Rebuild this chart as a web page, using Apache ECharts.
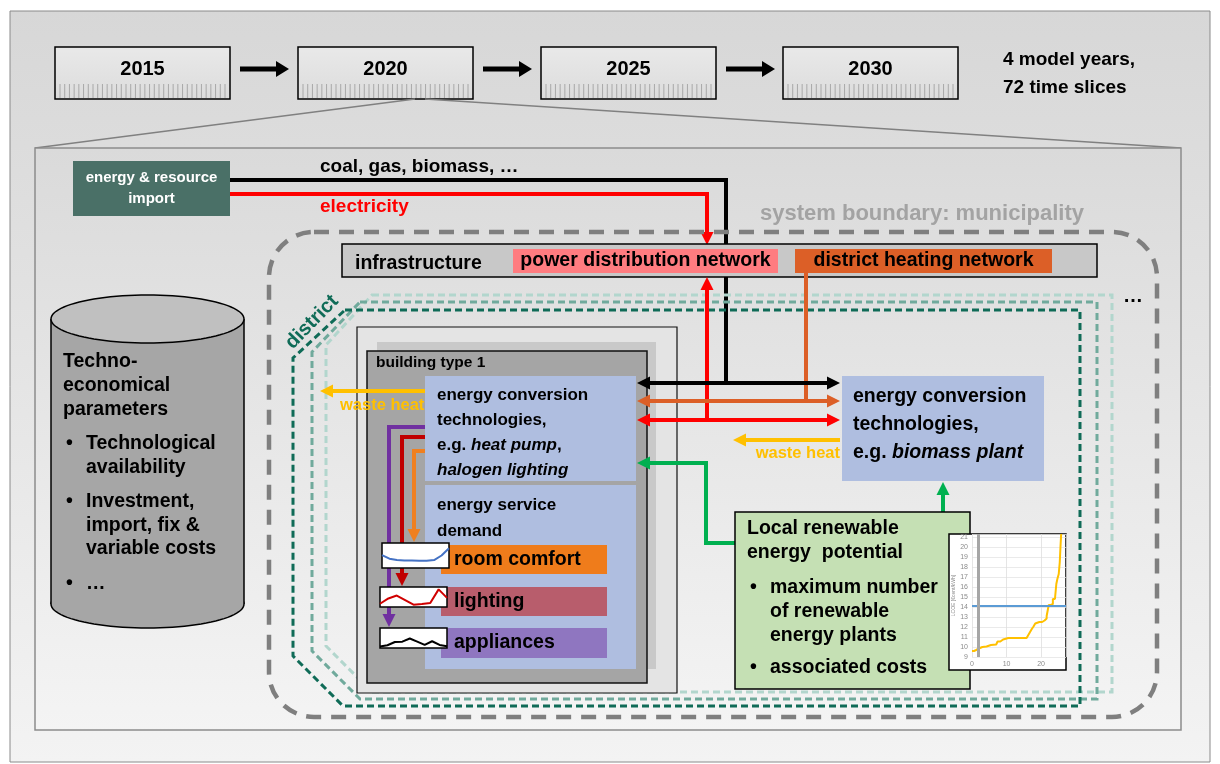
<!DOCTYPE html>
<html><head><meta charset="utf-8">
<script src="https://cdn.jsdelivr.net/npm/echarts@6/dist/echarts.min.js"></script>
<style>html,body{margin:0;padding:0;background:#fff}#c{width:1220px;height:764px}</style>
</head><body><div id="c"></div>
<script>
// ---------------- data ----------------
const years = ['2015', '2020', '2025', '2030'];
const timelineNote = ['4 model years,', '72 time slices'];
const roomComfortProfile = [0.52, 0.36, 0.3, 0.28, 0.28, 0.27, 0.27, 0.3, 0.5, 0.82];
const lightingProfile = [0.13, 0.42, 0.58, 0.33, 0.08, 0.12, 0.17, 0.92, 0.45];
const appliancesProfile = [0.03, 0.1, 0.28, 0.3, 0.47, 0.3, 0.12, 0.32, 0.12, 0.05];
const lcoeCapacity = [0, 0.6, 1.2, 2, 3, 4.2, 5.5, 7, 7.4, 8.2, 9, 10.5, 12, 14, 15.8, 16.3, 16.8, 17.3, 17.8, 18.3, 18.8, 19.5, 20.3, 21, 21.6, 22, 22.2, 22.8, 23.4, 24, 24.4, 24.7, 25.1, 25.4, 25.6, 25.8];
const lcoeValue = [9.6, 9.7, 9.85, 10.0, 10.05, 10.2, 10.25, 10.3, 10.55, 10.75, 10.9, 10.9, 10.9, 10.9, 10.95, 11.2, 11.5, 11.8, 12.05, 12.35, 12.5, 12.5, 12.65, 12.85, 13.1, 13.3, 14.2, 14.3, 14.8, 14.8, 16.3, 16.8, 17.3, 18.5, 20.0, 21.3];
const lcoeReference = 14.1;
const capacityMarker = 1.8;
const lcoeAxisName = 'LCOE [€cent/kWh]';

// ---------------- drawing helpers ----------------
const FF = '"Liberation Sans", Arial, Helvetica, sans-serif';
const G = [];
function add(el) { el.z = -1; el.silent = true; G.push(el); return el; }
function rect(x, y, w, h, fill, stroke, lw, r, dash) {
  return add({ type: 'rect', shape: { x, y, width: w, height: h, r: r || 0 },
    style: { fill: fill || 'none', stroke: stroke || null, lineWidth: lw || 0, lineDash: dash || null } });
}
function line(pts, stroke, lw, dash) {
  return add({ type: 'polyline', shape: { points: pts },
    style: { stroke, lineWidth: lw, fill: 'none', lineDash: dash || null, lineJoin: 'miter', lineCap: 'butt' } });
}
function polygon(pts, fill, stroke, lw, dash) {
  return add({ type: 'polygon', shape: { points: pts },
    style: { fill: fill || 'none', stroke: stroke || null, lineWidth: lw || 0, lineDash: dash || null, lineJoin: 'miter' } });
}
function headPts(tip, ux, uy, L, H) {
  const bx = tip[0] - ux * L, by = tip[1] - uy * L;
  return [[tip[0], tip[1]], [bx - uy * H, by + ux * H], [bx + uy * H, by - ux * H]];
}
function arrow(pts, color, lw, o) {
  o = o || {};
  const L = o.len || 13, H = o.half || 6.5;
  pts = pts.map(p => p.slice());
  const heads = [];
  if (o.end !== false) {
    const n = pts.length, a = pts[n - 2], b = pts[n - 1];
    const d = Math.hypot(b[0] - a[0], b[1] - a[1]), ux = (b[0] - a[0]) / d, uy = (b[1] - a[1]) / d;
    heads.push(headPts(b, ux, uy, L, H));
    pts[n - 1] = [b[0] - ux * L * 0.8, b[1] - uy * L * 0.8];
  }
  if (o.start) {
    const a = pts[1], b = pts[0];
    const d = Math.hypot(b[0] - a[0], b[1] - a[1]), ux = (b[0] - a[0]) / d, uy = (b[1] - a[1]) / d;
    heads.push(headPts(b, ux, uy, L, H));
    pts[0] = [b[0] - ux * L * 0.8, b[1] - uy * L * 0.8];
  }
  line(pts, color, lw);
  heads.forEach(h => polygon(h, color));
}
function txt(x, y, s, size, color, o) {
  o = o || {};
  const st = { x, y, text: s, font: `${o.italic ? 'italic ' : ''}${o.normal ? '' : 'bold '}${size}px ${FF}`,
    fill: color, align: o.align || 'left', verticalAlign: 'middle', textAlign: o.align || 'left', textVerticalAlign: 'middle' };
  if (o.rich) {
    st.rich = { i: { fontSize: size, fontWeight: 'bold', fontStyle: 'italic', fontFamily: FF, fill: color } };
  }
  const el = { type: 'text', style: st };
  if (o.rotation) { el.x = x; el.y = y; st.x = 0; st.y = 0; el.rotation = o.rotation; }
  return add(el);
}
function ellipse(cx, cy, rx, ry) {
  const p = [];
  for (let k = 0; k < 96; k++) { const t = k / 96 * Math.PI * 2; p.push([cx + rx * Math.cos(t), cy + ry * Math.sin(t)]); }
  return p;
}
const vgrad = (a, b) => ({ type: 'linear', x: 0, y: 0, x2: 0, y2: 1, colorStops: [{ offset: 0, color: a }, { offset: 1, color: b }] });

// ---------------- frame & timeline ----------------
rect(10, 11, 1200, 751, vgrad('#d7d7d7', '#f3f3f3'), '#8a8a8a', 1);
const yearBoxX = [55, 298, 541, 783];
years.forEach((y, i) => {
  const x = yearBoxX[i];
  rect(x, 47, 175, 52, vgrad('#e9e9e9', '#dcdcdc'), '#000', 1.5);
  for (let k = 0; k < 36; k++) {
    const tx = x + 5 + k * (165 / 35);
    line([[tx, 84], [tx, 98]], '#a8a8a8', 1);
  }
  txt(x + 87.5, 69, y, 20, '#000', { align: 'center' });
  if (i < 3) arrow([[x + 185, 69], [x + 234, 69]], '#000', 5, { len: 13, half: 8 });
});
txt(1003, 60, timelineNote[0], 19, '#000');
txt(1003, 88, timelineNote[1], 19, '#000');
line([[415, 99], [35, 148]], '#808080', 1.5);
line([[425, 99], [1181, 148]], '#808080', 1.5);

// inner model box
rect(35, 148, 1146, 582, vgrad('#dadada', '#f4f4f4'), '#8c8c8c', 1.5);

// import
rect(73, 161, 157, 55, '#4a7067');
txt(151.5, 178, 'energy & resource', 15, '#fff', { align: 'center' });
txt(151.5, 199, 'import', 15, '#fff', { align: 'center' });
line([[230, 180], [726, 180], [726, 383]], '#000', 4);
arrow([[230, 194], [707, 194], [707, 245]], '#ff0000', 4);
txt(320, 167, 'coal, gas, biomass, …', 19, '#000');
txt(320, 207, 'electricity', 19, '#ff0000');

// municipality boundary
rect(269, 232, 888, 485, 'none', '#7f7f7f', 4.5, 45, [15, 10]);
txt(760, 214, 'system boundary: municipality', 22, '#a3a3a3');

// districts
polygon([[372, 295], [1112, 295], [1112, 692], [372, 692], [326, 646], [326, 345]], 'none', '#b2d6cd', 3, [7, 4]);
polygon([[360, 302], [1097, 302], [1097, 699], [360, 699], [312, 651], [312, 352]], 'none', '#70aa9c', 3, [7, 4]);
polygon([[345, 310], [1080, 310], [1080, 706], [343, 706], [293, 656], [293, 358]], 'none', '#0f6b57', 3, [7, 4]);
txt(312, 322, 'district', 20, '#0f6b57', { align: 'center', rotation: 0.8 });
txt(1123, 296, '…', 20, '#000');

// infrastructure
rect(342, 244, 755, 33, '#c8c8c8', '#000', 1.5);
txt(355, 264, 'infrastructure', 19.5, '#000');
rect(513, 249, 265, 24, '#ff7c80');
txt(645.5, 261, 'power distribution network', 19.5, '#000', { align: 'center' });
rect(795, 249, 257, 24, '#dc5f27');
txt(923.5, 261, 'district heating network', 19.5, '#000', { align: 'center' });

// building
rect(357, 327, 320, 366, '#e4e4e4', '#111', 1.2);
rect(377, 342, 279, 327, '#c9c9c9');
rect(367, 351, 280, 332, '#a5a5a5', '#111', 1.5);
txt(376, 363, 'building type 1', 15.5, '#000');

// infrastructure links
arrow([[707, 420], [707, 277]], '#ff0000', 4);
line([[806, 273], [806, 401]], '#dc5f27', 4);
arrow([[637, 383], [840, 383]], '#000', 4, { start: true });
arrow([[637, 401], [840, 401]], '#dc5f27', 4, { start: true });
arrow([[637, 420], [840, 420]], '#ff0000', 4, { start: true });

// waste heat left
arrow([[425, 391], [320, 391]], '#ffc000', 4);
txt(340, 405, 'waste heat', 16.5, '#ffc000');

// building conversion + demand
rect(425, 376, 211, 105, '#afbee0');
txt(437, 395, 'energy conversion', 17, '#000');
txt(437, 420, 'technologies,', 17, '#000');
txt(437, 445, 'e.g. {i|heat pump},', 17, '#000', { rich: true });
txt(437, 470, '{i|halogen lighting}', 17, '#000', { rich: true });
rect(425, 485, 211, 184, '#afbee0');
txt(437, 505, 'energy service', 17, '#000');
txt(437, 531, 'demand', 17, '#000');
rect(441, 545, 166, 29, '#ef7c1b');
txt(454, 560, 'room comfort', 19.5, '#000');
rect(441, 587, 166, 29, '#b85d6c');
txt(454, 602, 'lighting', 19.5, '#000');
rect(441, 628, 166, 30, '#8f76c0');
txt(454, 643, 'appliances', 19.5, '#000');
arrow([[425, 427], [389, 427], [389, 627]], '#7030a0', 4);
arrow([[425, 437], [402, 437], [402, 586]], '#c00000', 4);
arrow([[425, 451], [414, 451], [414, 542]], '#f08020', 4);

// district conversion
rect(842, 376, 202, 105, '#afbee0');
txt(853, 397, 'energy conversion', 19.5, '#000');
txt(853, 425, 'technologies,', 19.5, '#000');
txt(853, 453, 'e.g. {i|biomass plant}', 19.5, '#000', { rich: true });
arrow([[840, 440], [733, 440]], '#ffc000', 4);
txt(840, 453, 'waste heat', 16.5, '#ffc000', { align: 'right' });

// renewables
arrow([[735, 543], [706, 543], [706, 463], [637, 463]], '#00b050', 4);
arrow([[943, 512], [943, 482]], '#00b050', 4);
rect(735, 512, 235, 177, '#c5e0b4', '#000', 1.5);
txt(747, 529, 'Local renewable', 19.5, '#000');
txt(747, 553, 'energy  potential', 19.5, '#000');
txt(750, 588, '•', 19.5, '#000');
txt(770, 588, 'maximum number', 19.5, '#000');
txt(770, 612, 'of renewable', 19.5, '#000');
txt(770, 636, 'energy plants', 19.5, '#000');
txt(750, 668, '•', 19.5, '#000');
txt(770, 668, 'associated costs', 19.5, '#000');
rect(949, 534, 117, 136, '#fff', '#000', 1.5);

// parameter database (cylinder)
polygon(ellipse(147.5, 604, 96.5, 24), '#a6a6a6', '#000', 1.5);
rect(51, 319, 193, 285, '#a6a6a6');
line([[51, 319], [51, 604]], '#000', 1.5);
line([[244, 319], [244, 604]], '#000', 1.5);
polygon(ellipse(147.5, 319, 96.5, 24), '#c0c0c0', '#000', 1.5);
txt(63, 362, 'Techno-', 19.5, '#000');
txt(63, 386, 'economical', 19.5, '#000');
txt(63, 410, 'parameters', 19.5, '#000');
txt(66, 444, '•', 19.5, '#000');
txt(86, 444, 'Technological', 19.5, '#000');
txt(86, 468, 'availability', 19.5, '#000');
txt(66, 502, '•', 19.5, '#000');
txt(86, 502, 'Investment,', 19.5, '#000');
txt(86, 526, 'import, fix &', 19.5, '#000');
txt(86, 549, 'variable costs', 19.5, '#000');
txt(66, 584, '•', 19.5, '#000');
txt(86, 584, '…', 19.5, '#000');

// ---------------- charts ----------------
const sparkGrids = [
  { left: 382, top: 543, width: 67, height: 25 },
  { left: 380, top: 587, width: 67, height: 20 },
  { left: 380, top: 628, width: 67, height: 20 }
];
const sparkData = [roomComfortProfile, lightingProfile, appliancesProfile];
const sparkColors = ['#4472c4', '#d00000', '#000000'];
const grids = sparkGrids.map(g => Object.assign({ show: true, backgroundColor: '#fff', borderColor: '#000', borderWidth: 1.5, z: 3 }, g));
grids.push({ left: 972, top: 534, width: 94, height: 123, show: false });
const xAxes = sparkData.map((d, i) => ({ gridIndex: i, type: 'category', boundaryGap: false, show: false, data: d.map((_, k) => k) }));
const yAxes = sparkData.map((d, i) => ({ gridIndex: i, type: 'value', show: false, min: -0.05, max: 1.05 }));
xAxes.push({ gridIndex: 3, type: 'value', min: 0, max: 27.2, interval: 10,
  axisLine: { show: false }, axisTick: { show: false },
  axisLabel: { fontSize: 7, color: '#8c8c8c', margin: 4, fontFamily: FF, formatter: v => (v % 10 === 0 ? String(v) : '') },
  splitLine: { lineStyle: { color: '#dedede', width: 0.8 } } });
yAxes.push({ gridIndex: 3, type: 'value', min: 9, max: 21.3, interval: 1,
  axisLine: { show: false }, axisTick: { show: false },
  axisLabel: { fontSize: 7, color: '#8c8c8c', margin: 4, fontFamily: FF, formatter: v => (Number.isInteger(v) ? String(v) : '') },
  splitLine: { lineStyle: { color: '#e4e4e4', width: 0.8 } },
  name: lcoeAxisName, nameLocation: 'middle', nameGap: 15, nameTextStyle: { fontSize: 5, color: '#8c8c8c', fontFamily: FF } });
const series = sparkData.map((d, i) => ({ type: 'line', xAxisIndex: i, yAxisIndex: i, data: d, showSymbol: false, z: 5,
  lineStyle: { color: sparkColors[i], width: 2 }, silent: true }));
series.push({ type: 'line', xAxisIndex: 3, yAxisIndex: 3, step: 'end', showSymbol: false, silent: true,
  data: lcoeCapacity.map((x, k) => [x, lcoeValue[k]]), lineStyle: { color: '#ffc000', width: 2 },
  markLine: { symbol: 'none', silent: true, label: { show: false },
    data: [{ yAxis: lcoeReference, lineStyle: { color: '#5b9bd5', width: 2, type: 'solid' } },
           { xAxis: capacityMarker, lineStyle: { color: '#a6a6a6', width: 3, type: 'solid' } }] } });

const chart = echarts.init(document.getElementById('c'), null, { renderer: 'canvas' });
chart.setOption({
  backgroundColor: '#fff', animation: false,
  graphic: { elements: G },
  grid: grids, xAxis: xAxes, yAxis: yAxes, series
});
</script></body></html>
